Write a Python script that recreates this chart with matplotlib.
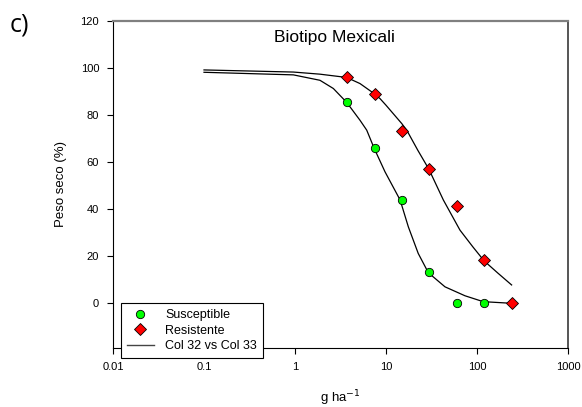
import matplotlib
matplotlib.use("Agg")
import matplotlib.pyplot as plt
from matplotlib.lines import Line2D

# Observed data
dose = [3.75, 7.5, 15, 30, 60, 120, 240]
susceptible = [85.4, 66.1, 43.8, 13.3, 0.0, 0.0]
resistente = [96.0, 89.1, 73.2, 56.9, 41.5, 18.4, 0.0]

# Fitted curves
curve_s_x = [0.1, 0.96, 1.88, 2.64, 3.7, 5.18, 6.14, 7.43, 9.75, 14.3, 17.6, 22.6, 29.2, 44.5, 73.8, 117, 240]
curve_s_y = [98.2, 97.1, 94.8, 91.3, 85.4, 77.8, 73.6, 65.8, 55.9, 43.9, 32.5, 21.2, 13.0, 7.0, 3.2, 0.7, 0.0]
curve_r_x = [0.1, 0.96, 1.88, 3.7, 5.18, 7.25, 8.6, 10.0, 14.9, 16.9, 22.4, 29.6, 42.7, 65, 90, 120, 170, 240]
curve_r_y = [99.2, 98.3, 97.4, 96.0, 93.4, 89.4, 87.0, 84.2, 76.4, 73.6, 65.0, 57.0, 43.9, 31.1, 24.0, 18.0, 12.8, 7.8]

yticks = [0, 20, 40, 60, 80, 100, 120]
xticks = [0.01, 0.1, 1, 10, 100, 1000]
xticklabels = ["0.01", "0.1", "1", "10", "100", "1000"]

plt.rcParams['font.family'] = ['Liberation Sans', 'DejaVu Sans']

fig = plt.figure(figsize=(5.82, 4.07), dpi=100)
ax = fig.add_axes([113/582, 1-348/407, 455/582, 327/407])

ax.plot(curve_s_x, curve_s_y, color='black', lw=0.9, zorder=2, solid_joinstyle='round')
ax.plot(curve_r_x, curve_r_y, color='black', lw=0.9, zorder=2, solid_joinstyle='round')
ax.plot(dose[:len(susceptible)], susceptible, 'o', ms=6, mfc='#00ff00', mec='black', mew=0.6, ls='none', zorder=3)
ax.plot(dose, resistente, 'D', ms=6.5, mfc='#ff0000', mec='black', mew=0.6, ls='none', zorder=3)

ax.set_xscale('log')
ax.set_xlim(0.01, 1000)
ax.set_ylim(-19, 120)
ax.set_xticks(xticks)
ax.set_xticklabels(xticklabels)
ax.set_yticks(yticks)
ax.minorticks_off()
ax.tick_params(direction='out', length=4, width=0.8, labelsize=8, colors='black')
ax.tick_params(axis='x', pad=6)
ax.tick_params(axis='y', pad=6)

ax.spines['top'].set_color('#808080')
ax.spines['top'].set_linewidth(1.6)
ax.spines['right'].set_color('#555555')
ax.spines['right'].set_linewidth(1.4)
ax.spines['left'].set_linewidth(0.8)
ax.spines['bottom'].set_linewidth(0.8)

ax.text(0.487, 0.95, "Biotipo Mexicali", transform=ax.transAxes, ha='center', va='center', fontsize=12.5)
ax.set_xlabel("g ha$^{-1}$", fontsize=9.5, labelpad=12)
ax.set_ylabel("Peso seco (%)", fontsize=9.5, labelpad=10)

handles = [
    Line2D([], [], marker='o', ls='none', ms=6, mfc='#00ff00', mec='black', mew=0.6),
    Line2D([], [], marker='D', ls='none', ms=6.5, mfc='#ff0000', mec='black', mew=0.6),
    Line2D([], [], color='#444444', lw=1.0),
]
leg = fig.legend(handles, ["Susceptible", "Resistente", "Col 32 vs Col 33"],
                 loc='lower left', bbox_to_anchor=(121/582, 1-358/407),
                 fontsize=9, frameon=True, fancybox=False, framealpha=1,
                 edgecolor='black', borderaxespad=0, handlelength=2.2,
                 labelspacing=0.3, borderpad=0.45, handletextpad=0.9)
leg.get_frame().set_linewidth(0.8)

fig.text(19/582, 1-25/407, "c)", fontsize=18, family=['Open Sans', 'DejaVu Sans'], ha='center', va='center')

fig.savefig("out.png", dpi=100)
